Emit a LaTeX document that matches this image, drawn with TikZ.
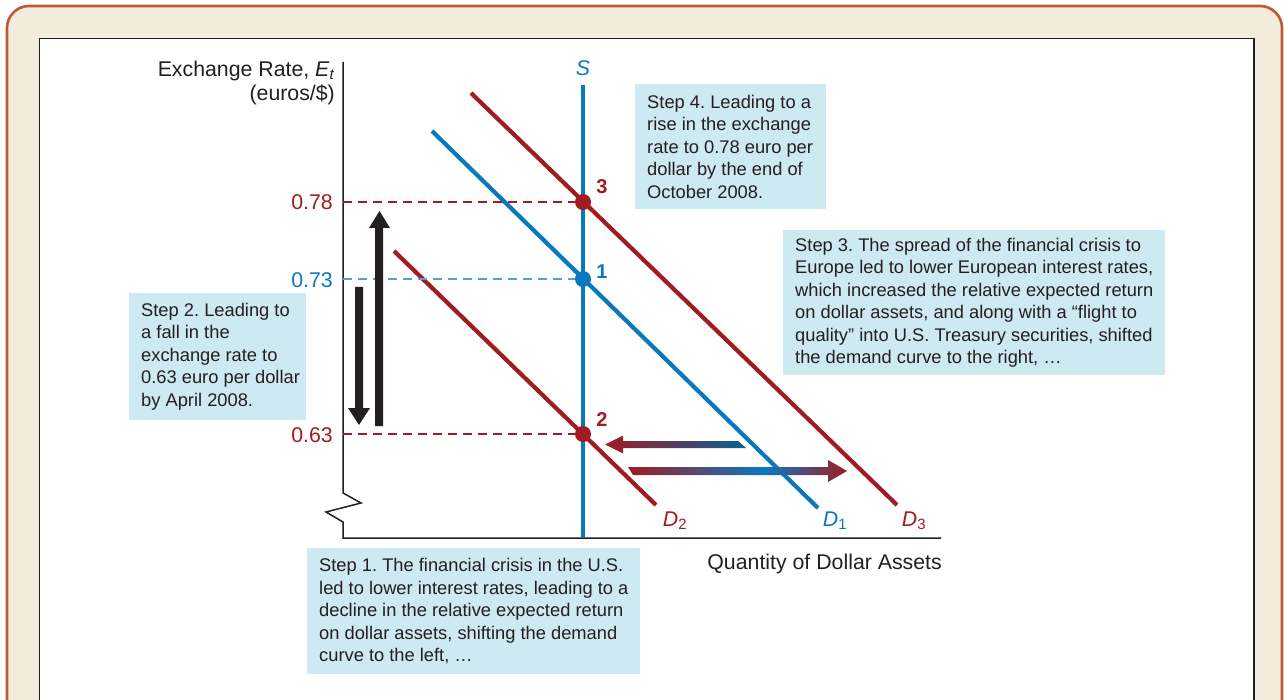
\documentclass[tikz,border=0pt]{standalone}
\usepackage{fontspec}
\setmainfont{Liberation Sans}
\frenchspacing
\definecolor{cream}{HTML}{F3EBDC}
\definecolor{framec}{HTML}{B95B35}
\definecolor{ink}{HTML}{231F20}
\definecolor{dblue}{HTML}{0A78BE}
\definecolor{dred}{HTML}{A01B22}
\definecolor{boxc}{HTML}{CDE9F1}
\pgfdeclarehorizontalshading{rbr}{100bp}{color(0bp)=(dred); color(25bp)=(dred); color(56bp)=(dblue); color(75bp)=(dred); color(100bp)=(dred)}
\tikzset{
  stepbox/.style={fill=boxc, draw=none, inner sep=0pt, anchor=north west},
  steptext/.style={anchor=west, align=left, inner sep=0pt, text=ink, font=\fontsize{18.3}{22.5}\selectfont},
  axislabel/.style={inner sep=0pt, font=\fontsize{21.3}{24}\selectfont},
  curve/.style={line width=4.2pt},
  axisline/.style={draw=ink, line width=1.5pt, line join=miter},
  guide/.style={line width=1.1pt, dash pattern=on 9pt off 6pt},
  dot/.style={circle, minimum size=16pt, inner sep=0pt, draw=none},
  ptlabel/.style={font=\fontsize{20}{22}\selectfont\bfseries},
  bigarrow/.style={fill=ink, draw=none}
}
\begin{document}
\begin{tikzpicture}[x=1pt,y=-1pt]
\useasboundingbox (0,0) rectangle (1284,700);
\clip (0,0) rectangle (1284,700);
% frames
\draw[draw=framec, line width=2.6pt, fill=cream, rounded corners=22pt] (7,6) rectangle (1282,780);
\draw[draw=ink, line width=1.6pt, fill=white] (39.5,38.5) rectangle (1254,780);

% axes
\coordinate (ytop) at (343,62);
\coordinate (orig) at (343,538);
\coordinate (xend) at (941,538);
\draw[axisline] (ytop) -- (343,493) -- (361,503) -- (326,512) -- (343,522) -- (orig) -- (xend);

\node[axislabel, anchor=east, align=right, text=ink] (ylab) at (335,83) {Exchange Rate, \textit{E}\textsubscript{\textit{t}}\\(euros/\$)};
\node[axislabel, anchor=east, text=ink] (xlab) at (942,564) {Quantity of Dollar Assets};

% guides
\coordinate (a78) at (343,202);
\coordinate (a73) at (343,279);
\coordinate (a63) at (343,434);
\node[axislabel, anchor=east, text=dred] (t78) at (333,202) {0.78};
\node[axislabel, anchor=east, text=dblue] (t73) at (333,280) {0.73};
\node[axislabel, anchor=east, text=dred] (t63) at (333,435) {0.63};

% supply
\coordinate (stop) at (583,85);
\coordinate (sbot) at (583,538);
\draw[curve, dblue] (stop) -- (sbot);
\node[axislabel, text=dblue] (slab) at (583,68) {\textit{S}};

% demand curves
\coordinate (d1a) at (432,131); \coordinate (d1b) at (818,508);
\coordinate (d2a) at (394,251); \coordinate (d2b) at (656,505);
\coordinate (d3a) at (471,93);  \coordinate (d3b) at (897,505);
\draw[curve, dblue] (d1a) -- (d1b);
\draw[curve, dred] (d2a) -- (d2b);
\draw[curve, dred] (d3a) -- (d3b);
\node[axislabel, text=dred] (l2) at (675,521) {\textit{D}\textsubscript{2}};
\node[axislabel, text=dblue] (l1) at (835,521) {\textit{D}\textsubscript{1}};
\node[axislabel, text=dred] (l3) at (914,521) {\textit{D}\textsubscript{3}};

% points
\node[dot, fill=dred] (p3) at (583,202) {};
\node[dot, fill=dblue] (p1) at (583,279) {};
\node[dot, fill=dred] (p2) at (583,434) {};
\draw[guide, dred] (a78) -- (p3);
\draw[guide, dblue!70!white] (a73) -- (p1);
\draw[guide, dred] (a63) -- (p2);
\node[ptlabel, text=dred] (n3) at (602,187) {3};
\node[ptlabel, text=dblue] (n1) at (602,272) {1};
\node[ptlabel, text=dred] (n2) at (602,420) {2};

% black arrows
\fill[bigarrow] (375,426) -- (375,228) -- (369,228) -- (379.5,211) -- (390,228) -- (383,228) -- (383,426) -- cycle;
\fill[bigarrow] (355,287) -- (363,287) -- (363,408) -- (370,408) -- (359,425) -- (348,408) -- (355,408) -- cycle;

% gradient arrows
\shade[left color=dred, right color=dblue!80!black] (746,448) -- (738,441) -- (623,441) -- (623,435.5) -- (605,444.5) -- (623,453.5) -- (623,448) -- cycle;
\shade[shading=rbr] (628,467) -- (828,467) -- (828,460) -- (847,471) -- (828,482) -- (828,475) -- (633,475) -- cycle;

% step boxes
\node[stepbox, minimum width=191pt, minimum height=125pt] (b4) at (635,84) {};
\node[steptext] (t4) at ([xshift=12pt]b4.west) {Step 4. Leading to a\\rise in the exchange\\rate to 0.78 euro per\\dollar by the end of\\October 2008.};

\node[stepbox, minimum width=382pt, minimum height=145pt] (b3) at (783,230) {};
\node[steptext] (t3) at ([xshift=12pt]b3.west) {Step 3. The spread of the financial crisis to\\Europe led to lower European interest rates,\\which increased the relative expected return\\on dollar assets, and along with a “flight to\\quality” into U.S. Treasury securities, shifted\\the demand curve to the right, …};

\node[stepbox, minimum width=177pt, minimum height=127pt] (b2) at (129,293) {};
\node[steptext] (t2) at ([xshift=12pt]b2.west) {Step 2. Leading to\\a fall in the\\exchange rate to\\0.63 euro per dollar\\by April 2008.};

\node[stepbox, minimum width=333pt, minimum height=126pt] (b1) at (307,548) {};
\node[steptext] (t1) at ([xshift=12pt]b1.west) {Step 1. The financial crisis in the U.S.\\led to lower interest rates, leading to a\\decline in the relative expected return\\on dollar assets, shifting the demand\\curve to the left, …};
\end{tikzpicture}
\end{document}
